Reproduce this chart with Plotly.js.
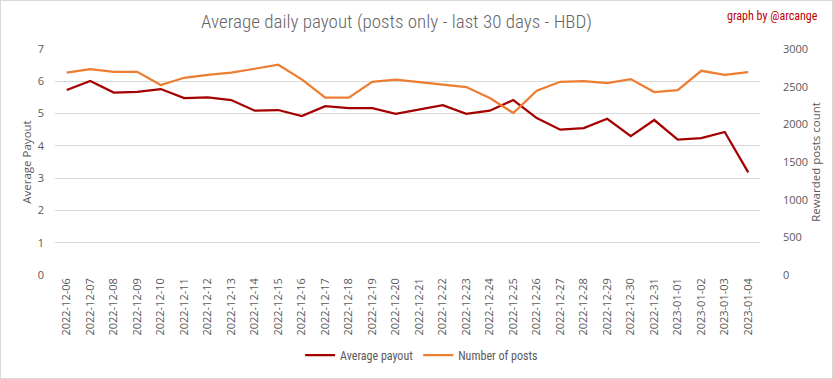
<!DOCTYPE html>
<html><head><meta charset="utf-8">
<script src="https://cdn.plot.ly/plotly-3.0.1.min.js"></script>
<style>html,body{margin:0;padding:0;background:#fff}#chart{width:831px;height:377px;border:1px solid #d9d9d9}</style>
</head><body><div id="chart"></div>
<script>
const dates = ["2022-12-06","2022-12-07","2022-12-08","2022-12-09","2022-12-10","2022-12-11","2022-12-12","2022-12-13","2022-12-14","2022-12-15","2022-12-16","2022-12-17","2022-12-18","2022-12-19","2022-12-20","2022-12-21","2022-12-22","2022-12-23","2022-12-24","2022-12-25","2022-12-26","2022-12-27","2022-12-28","2022-12-29","2022-12-30","2022-12-31","2023-01-01","2023-01-02","2023-01-03","2023-01-04"];
const avgPayout = [5.73,6.01,5.65,5.67,5.76,5.48,5.50,5.42,5.09,5.11,4.92,5.23,5.17,5.17,4.99,5.13,5.26,4.99,5.09,5.42,4.86,4.50,4.55,4.84,4.30,4.80,4.19,4.24,4.43,3.18];
const numPosts = [2685,2733,2698,2698,2521,2618,2658,2685,2738,2791,2597,2353,2353,2565,2592,2557,2526,2495,2349,2150,2446,2565,2574,2548,2601,2428,2455,2711,2658,2694];

const condFam = "'Roboto Condensed','Liberation Sans Narrow','Open Sans',sans-serif";
const tickFam = "'Open Sans',sans-serif";
const gray = "#595959";
const data = [
  {x: dates, y: avgPayout, name: "Average payout", type: "scatter", mode: "lines", line: {color: "#a50000", width: 2.25}, yaxis: "y"},
  {x: dates, y: numPosts, name: "Number of posts", type: "scatter", mode: "lines", line: {color: "#ed7d31", width: 2.25}, yaxis: "y2"}
];
const layout = {
  width: 831, height: 377,
  margin: {l: 54, r: 72, t: 48, b: 103, autoexpand: false},
  paper_bgcolor: "#fff", plot_bgcolor: "#fff",
  font: {family: tickFam, color: gray, size: 11},
  title: {text: "Average daily payout (posts only - last 30 days - HBD)", font: {size: 19, color: "#666666", family: condFam, weight: 300}, x: 0.476, xref: "container", y: 0.945, yref: "container", yanchor: "middle"},
  xaxis: {type: "category", range: [-0.5, 29.5], tickangle: -90, showgrid: false, zeroline: false, showline: false, ticks: "", tickfont: {size: 11, color: gray, family: tickFam}, fixedrange: true},
  yaxis: {range: [0, 7], dtick: 1, gridcolor: "#d9d9d9", gridwidth: 1, zeroline: false, showline: false, ticks: "", tickfont: {size: 11, color: gray}, ticklabelstandoff: 10,
          title: {text: "Average Payout", font: {size: 11.5, color: gray, family: tickFam}, standoff: 3}},
  yaxis2: {range: [0, 3000], dtick: 500, overlaying: "y", side: "right", showgrid: false, zeroline: false, showline: false, ticks: "", tickfont: {size: 11, color: gray}, ticklabelstandoff: 22,
          title: {text: "Rewarded posts count", font: {size: 11.5, color: gray, family: tickFam}, standoff: 2}},
  showlegend: true,
  legend: {orientation: "h", x: 0.52, xanchor: "center", y: -0.355, yanchor: "middle", font: {size: 12, color: gray, family: condFam}},
  annotations: [{text: "graph by @arcange", xref: "paper", yref: "paper", x: 1.085, y: 1.145, xanchor: "right", yanchor: "middle", showarrow: false, font: {size: 12, color: "#c00000", family: condFam}}]
};
Plotly.newPlot("chart", data, layout, {displayModeBar: false, staticPlot: true});
</script></body></html>
